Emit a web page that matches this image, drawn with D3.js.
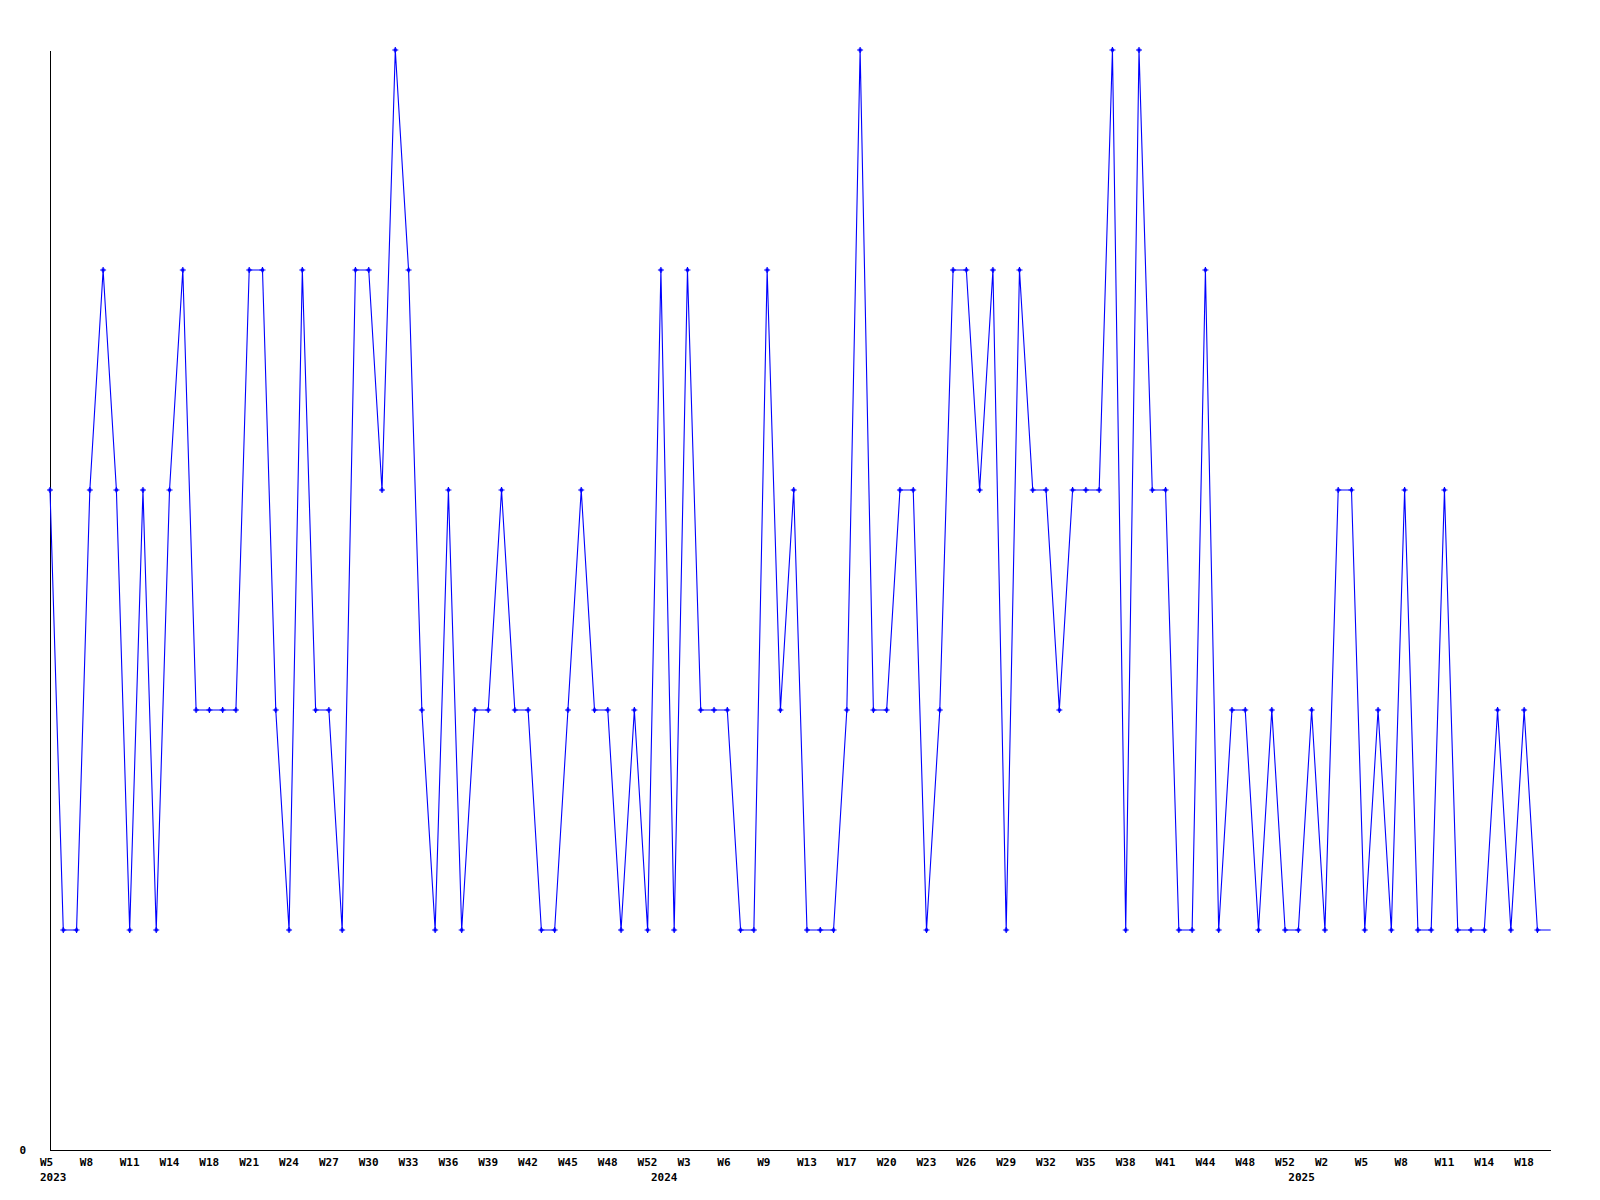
<!DOCTYPE html>
<html>
<head>
<meta charset="utf-8">
<script src="https://cdn.jsdelivr.net/npm/d3@7"></script>
<style>
  html, body { margin: 0; padding: 0; background: #ffffff; }
  svg { display: block; }
  text { font-family: "DejaVu Sans Mono", "Liberation Mono", monospace; font-weight: bold; font-size: 11px; fill: #000; }
</style>
</head>
<body>
<svg id="chart" width="1600" height="1200"></svg>
<script>
// ---- data (one value per weekly point) ----
const weeklyValues = [
  3,1,1,3,4,3,1,3,1,3,
  4,2,2,2,2,4,4,2,1,4,
  2,2,1,4,4,3,5,4,2,1,
  3,1,2,2,3,2,2,1,1,2,
  3,2,2,1,2,1,4,1,4,2,
  2,2,1,1,4,2,3,1,1,1,
  2,5,2,2,3,3,1,2,4,4,
  3,4,1,4,3,3,2,3,3,3,
  5,1,5,3,3,1,1,4,1,2,
  2,1,2,1,1,2,1,3,3,1,
  2,1,3,1,1,3,1,1,1,2,
  1,2,1
];
// current (incomplete) week: drawn in the line, without a marker
const currentWeekValue = 1;

// week tick labels, one every third point
const weekTickLabels = [
  "W5","W8","W11","W14","W18","W21","W24","W27","W30","W33","W36","W39","W42",
  "W45","W48","W52","W3","W6","W9","W13","W17","W20","W23","W26","W29","W32",
  "W35","W38","W41","W44","W48","W52","W2","W5","W8","W11","W14","W18"
];
const tickEvery = 3;
// year labels and the point index where each year starts
const yearLabels = ["2023", "2024", "2025"];
const yearStartIndex = [0, 46, 94];
const yTickValues = [0];
const yMax = 5;

// ---- layout ----
const margin = { left: 50, top: 50, right: 1600 - 1550.7, bottom: 1200 - 1150 };
const W = 1600, H = 1200;

const allValues = weeklyValues.concat([currentWeekValue]);
const points = allValues.map((v, i) => ({ i, v, marker: i < weeklyValues.length }));

const svg = d3.select("#chart");

const x = d3.scaleLinear()
  .domain([0, allValues.length - 1])
  .range([margin.left, W - margin.right]);
const y = d3.scaleLinear()
  .domain([0, yMax])
  .range([H - margin.bottom, margin.top]);

// axes lines
const gx = svg.append("g").attr("transform", `translate(0,${y(0)})`);
gx.call(d3.axisBottom(x).tickValues([]).tickSize(0).tickSizeOuter(0));
gx.select(".domain").attr("stroke", "#000").attr("stroke-width", 1).attr("shape-rendering", "crispEdges");

const gy = svg.append("g").attr("transform", `translate(${x(0)},0)`);
gy.call(d3.axisLeft(y).tickValues(yTickValues).tickFormat(d3.format("d"))
  .tickSize(0).tickSizeOuter(0).tickPadding(24));
gy.select(".domain").attr("stroke", "#000").attr("stroke-width", 1).attr("shape-rendering", "crispEdges");
gy.selectAll(".tick text")
  .attr("font-family", null).attr("font-size", null)
  .attr("dy", "0.35em")
  .style("font-family", "'DejaVu Sans Mono', monospace")
  .style("font-weight", "bold").style("font-size", "11px").style("fill", "#000");

// week tick labels
const tickIdx = weekTickLabels.map((_, k) => k * tickEvery);
svg.append("g").selectAll("text.wk")
  .data(weekTickLabels)
  .join("text")
  .attr("class", "wk")
  .attr("x", (d, k) => x(tickIdx[k]) - 10)
  .attr("y", y(0) + 16)
  .text(d => d);

// year labels
svg.append("g").selectAll("text.yr")
  .data(yearLabels)
  .join("text")
  .attr("class", "yr")
  .attr("x", (d, k) => x(yearStartIndex[k]) - 10)
  .attr("y", y(0) + 31)
  .text(d => d);

// line
const line = d3.line().x(d => x(d.i)).y(d => y(d.v));
svg.append("path")
  .datum(points)
  .attr("d", line)
  .attr("fill", "none")
  .attr("stroke", "#0000ff")
  .attr("stroke-width", 1.1);

// markers (small plus shapes)
const mk = svg.append("g").attr("fill", "#0000ff");
const mpts = points.filter(p => p.marker);
mk.selectAll("path.mk")
  .data(mpts)
  .join("path")
  .attr("class", "mk")
  .attr("transform", d => `translate(${x(d.i)},${y(d.v)})`)
  .attr("d", "M-3,-0.6H3V0.6H-3Z M-0.6,-3H0.6V3H-0.6Z M-1.5,-1.5H1.5V1.5H-1.5Z");
</script>
</body>
</html>
